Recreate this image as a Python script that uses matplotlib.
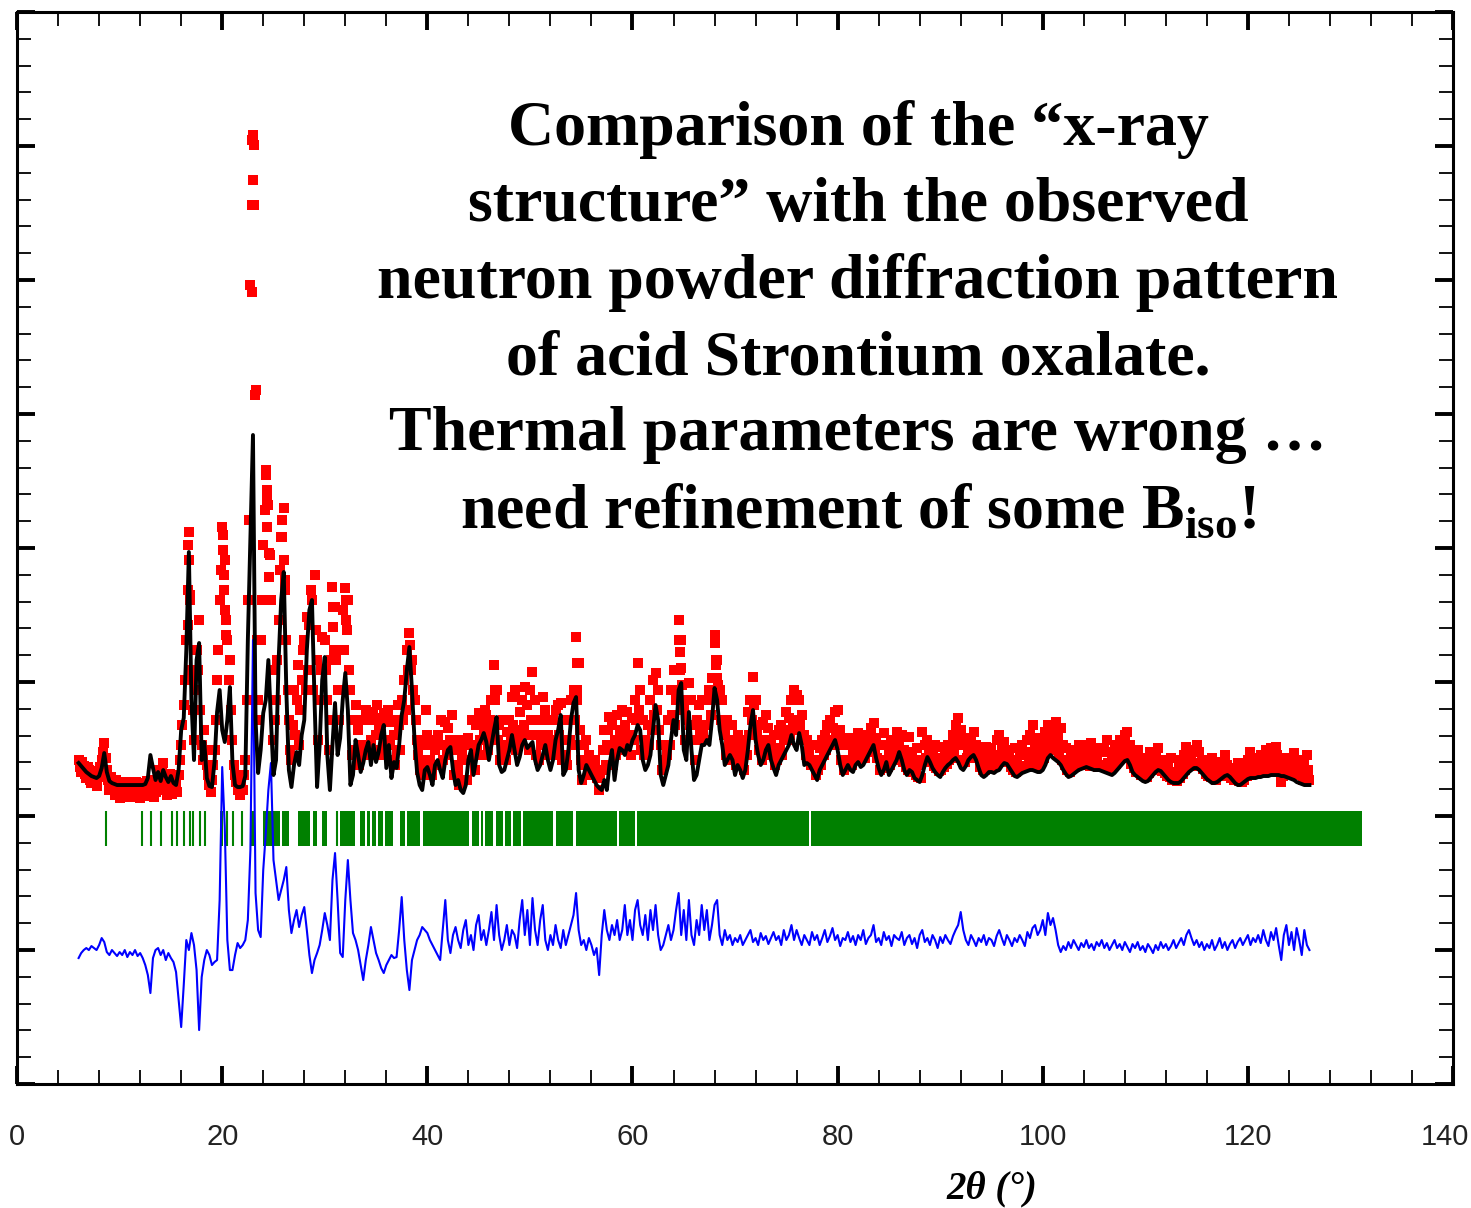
import numpy as np
import matplotlib
matplotlib.use("Agg")
import matplotlib.pyplot as plt
from matplotlib.ticker import MultipleLocator
from matplotlib.transforms import ScaledTranslation

# step scan, 6-126 deg in 0.125 deg steps, stored as the 0.25 deg points
# (y_obs) and the points half way between them (y_obs_mid)
tth_start, tth_stop, tth_step = 6.0, 126.0, 0.25

y_obs = [
    2400, 2280, 2340, 2220, 2300, 2170, 2240, 2140, 2280, 2400, 2570, 2300, 2100, 2180, 2050, 2140, 2020, 2100, 2040, 2120,
    2030, 2120, 2050, 2160, 2020, 2100, 2050, 2140, 2100, 2200, 2080, 2300, 2100, 2370, 2180, 2100, 2200, 2080, 2160, 2250,
    2550, 2950, 3600, 4680, 3200, 2600, 3500, 3800, 2550, 2700, 2350, 2150, 2200, 2500, 3200, 4000, 4730, 4400, 3600, 3400,
    2600, 2250, 2100, 2050, 2100, 2400, 4000, 7150, 8650, 6100, 3000, 3600, 4550, 5300, 4950, 4000, 2600, 3000, 3800, 4630,
    4920, 3600, 2800, 2400, 3100, 3000, 2550, 3200, 3600, 3830, 3750, 4000, 4250, 3400, 3000, 3630, 3600, 3000, 2800, 4130,
    3930, 3100, 3500, 3900, 4120, 4000, 3100, 2800, 2950, 2700, 2550, 2800, 2900, 2800, 2600, 2880, 2650, 2750, 2820, 2870,
    2550, 2780, 2400, 2650, 2500, 2750, 3000, 3200, 3500, 3670, 3400, 3000, 2600, 2300, 2400, 2550, 2650, 2400, 2250, 2500,
    2650, 2550, 2400, 2780, 2720, 2600, 2500, 2350, 2300, 2550, 2200, 2400, 2620, 2550, 2450, 2750, 2870, 2800, 2700, 2850,
    2600, 3000, 3350, 3100, 2750, 2550, 2450, 2680, 2800, 3030, 3100, 2700, 2880, 3000, 3130, 2950, 3100, 3280, 3000, 2650,
    2800, 3030, 2900, 2650, 2500, 2800, 2900, 2950, 2970, 2600, 2450, 2800, 3000, 3100, 3630, 3370, 2400, 2550, 2600, 2450,
    2400, 2300, 2220, 2100, 2300, 2700, 2550, 2830, 2750, 2600, 2850, 2650, 2900, 2750, 2880, 2650, 2820, 3000, 3370, 3100,
    2800, 2600, 2750, 3000, 3200, 3270, 3100, 2550, 2300, 2550, 2800, 3100, 3300, 3000, 3800, 3600, 2900, 2800, 3170, 3000,
    2600, 2800, 2950, 3000, 2750, 3000, 3100, 3220, 3650, 3400, 3100, 3000, 2700, 2800, 2600, 2750, 2550, 2650, 2600, 2500,
    2600, 2880, 3000, 3230, 3000, 2750, 2600, 2780, 2850, 2720, 2600, 2650, 2520, 2700, 2750, 2600, 2880, 2820, 3000, 3100,
    3050, 3000, 2850, 2650, 2600, 2500, 2550, 2400, 2350, 2520, 2600, 2650, 2750, 2800, 2720, 2880, 2900, 2700, 2550, 2600,
    2550, 2620, 2500, 2600, 2670, 2520, 2600, 2650, 2580, 2720, 2770, 2620, 2550, 2400, 2670, 2550, 2480, 2600, 2520, 2680,
    2600, 2650, 2500, 2400, 2630, 2480, 2400, 2520, 2350, 2680, 2550, 2600, 2520, 2450, 2550, 2400, 2530, 2420, 2500, 2550,
    2550, 2650, 2750, 2820, 2700, 2550, 2600, 2500, 2620, 2680, 2550, 2480, 2400, 2500, 2530, 2420, 2520, 2450, 2600, 2650,
    2520, 2580, 2450, 2500, 2380, 2520, 2400, 2480, 2550, 2450, 2600, 2650, 2750, 2580, 2500, 2620, 2550, 2680, 2750, 2620,
    2700, 2780, 2650, 2720, 2550, 2520, 2380, 2450, 2420, 2500, 2550, 2450, 2500, 2550, 2420, 2570, 2500, 2430, 2520, 2480,
    2520, 2600, 2480, 2420, 2550, 2480, 2600, 2520, 2650, 2680, 2550, 2450, 2380, 2500, 2420, 2350, 2300, 2400, 2480, 2420,
    2450, 2520, 2400, 2350, 2300, 2380, 2420, 2280, 2250, 2320, 2400, 2450, 2530, 2480, 2420, 2500, 2550, 2480, 2400, 2320,
    2300, 2380, 2420, 2250, 2320, 2380, 2300, 2450, 2350, 2300, 2250, 2320, 2370, 2220, 2280, 2320, 2400, 2480, 2350, 2420,
    2350, 2450, 2380, 2500, 2420, 2520, 2450, 2530, 2400, 2180, 2350, 2420, 2300, 2380, 2470, 2320, 2400, 2280, 2350, 2450,
    2200,
]

y_obs_mid = [
    2330, 2380, 2260, 2330, 2200, 2290, 2180, 2230, 2330, 2480, 2420, 2200, 2230, 2100, 2200, 2080, 2170, 2060, 2180, 2060,
    2160, 2060, 2180, 2080, 2170, 2040, 2190, 2050, 2150, 2030, 2200, 2160, 2280, 2100, 2050, 2260, 2060, 2180, 2080, 2400,
    2750, 3200, 4100, 4050, 2900, 3100, 3300, 2900, 2400, 2500, 2250, 2080, 2350, 2800, 3500, 4300, 4500, 3800, 3200, 2900,
    2350, 2180, 2200, 2150, 2250, 3000, 4800, 7950, 8550, 3600, 2800, 4000, 4900, 5000, 4450, 3300, 2800, 3400, 4300, 4800,
    4200, 3100, 2500, 2750, 2650, 3350, 2900, 3500, 3100, 3300, 4100, 3100, 3700, 2600, 3300, 3000, 3300, 2500, 3400, 3500,
    3400, 2800, 3100, 3500, 3700, 3300, 2450, 2500, 2500, 2350, 2800, 2450, 2550, 2450, 2800, 2450, 2950, 2500, 2450, 2600,
    2900, 2550, 2800, 2350, 2950, 2500, 2800, 2900, 3300, 3300, 3100, 2800, 2450, 2550, 2250, 2900, 2350, 2250, 2600, 2350,
    2350, 2800, 2550, 2450, 2500, 2850, 2250, 2600, 2150, 2450, 2600, 2200, 2400, 2800, 2300, 2550, 2600, 2450, 2900, 2500,
    2800, 2700, 3000, 2600, 2400, 2800, 2400, 2550, 2600, 2750, 2500, 2550, 2600, 2750, 2650, 2500, 2800, 2650, 2450, 2400,
    2550, 2600, 2450, 2800, 2450, 2600, 2500, 2650, 2400, 2800, 2350, 2600, 2550, 2800, 3000, 2700, 2200, 2350, 2250, 2300,
    2250, 2400, 2300, 2250, 2500, 2350, 2700, 2500, 2350, 2450, 2500, 2700, 2550, 2500, 2650, 2450, 2600, 2800, 2900, 2500,
    2450, 2500, 2550, 2700, 2850, 2900, 2700, 2300, 2400, 2450, 2550, 2850, 2750, 3100, 3300, 3150, 2600, 3000, 2750, 2600,
    2400, 2600, 2700, 2650, 2600, 2750, 2850, 3000, 3350, 3150, 2800, 2650, 2450, 2550, 2400, 2500, 2350, 2450, 2350, 2300,
    2450, 2650, 2800, 2950, 2700, 2500, 2400, 2550, 2600, 2500, 2450, 2350, 2400, 2500, 2450, 2700, 2600, 2650, 2750, 2800,
    2700, 2750, 2600, 2450, 2400, 2350, 2350, 2250, 2300, 2350, 2450, 2500, 2550, 2600, 2550, 2650, 2550, 2400, 2300, 2400,
    2400, 2350, 2420, 2450, 2400, 2450, 2420, 2480, 2500, 2550, 2500, 2420, 2300, 2320, 2400, 2330, 2350, 2400, 2420, 2500,
    2450, 2380, 2330, 2300, 2350, 2280, 2250, 2230, 2220, 2400, 2420, 2460, 2380, 2340, 2320, 2290, 2300, 2330, 2360, 2400,
    2420, 2480, 2550, 2600, 2400, 2380, 2420, 2460, 2480, 2520, 2420, 2330, 2300, 2300, 2350, 2320, 2330, 2350, 2380, 2420,
    2400, 2420, 2380, 2330, 2300, 2280, 2300, 2320, 2340, 2330, 2400, 2480, 2380, 2350, 2340, 2400, 2420, 2500, 2550, 2520,
    2500, 2550, 2450, 2400, 2350, 2300, 2280, 2320, 2330, 2360, 2380, 2350, 2370, 2400, 2340, 2380, 2360, 2330, 2350, 2340,
    2340, 2370, 2310, 2330, 2360, 2400, 2420, 2450, 2480, 2500, 2360, 2320, 2280, 2300, 2250, 2240, 2230, 2270, 2300, 2330,
    2350, 2330, 2290, 2270, 2240, 2230, 2200, 2200, 2190, 2220, 2260, 2300, 2350, 2340, 2360, 2370, 2360, 2340, 2310, 2260,
    2240, 2230, 2320, 2200, 2250, 2240, 2380, 2280, 2270, 2220, 2200, 2240, 2190, 2180, 2200, 2240, 2300, 2280, 2260, 2300,
    2270, 2300, 2280, 2350, 2300, 2380, 2320, 2450, 2300, 2240, 2280, 2330, 2260, 2300, 2380, 2250, 2330, 2200, 2250, 2300,
]

y_calc = [
    2370, 2340, 2310, 2280, 2260, 2240, 2230, 2220, 2240, 2320, 2470, 2280, 2190, 2170, 2160, 2150, 2150, 2150, 2150, 2150,
    2150, 2150, 2150, 2150, 2150, 2150, 2160, 2220, 2450, 2320, 2200, 2280, 2190, 2300, 2230, 2180, 2240, 2170, 2150, 2300,
    2700, 2820, 3500, 4480, 3000, 2400, 3400, 3570, 2400, 2580, 2220, 2140, 2130, 2380, 2880, 3100, 2700, 2580, 2800, 3130,
    2370, 2150, 2130, 2130, 2140, 2240, 3600, 4630, 5650, 2800, 2270, 2500, 2870, 3000, 3400, 2800, 2250, 2400, 3400, 4000,
    4280, 3100, 2300, 2130, 2350, 2480, 2350, 2650, 2800, 3500, 3900, 4000, 3000, 2130, 2550, 3200, 3430, 2450, 2100, 2550,
    2970, 2450, 2620, 3000, 3270, 2900, 2150, 2250, 2600, 2450, 2280, 2370, 2500, 2580, 2350, 2550, 2380, 2480, 2650, 2750,
    2320, 2550, 2220, 2380, 2320, 2550, 2850, 3000, 3300, 3530, 3100, 2600, 2280, 2150, 2100, 2300, 2330, 2250, 2150, 2350,
    2400, 2300, 2220, 2400, 2500, 2530, 2300, 2150, 2200, 2100, 2070, 2150, 2400, 2500, 2250, 2400, 2550, 2600, 2670, 2580,
    2400, 2550, 2700, 2830, 2350, 2280, 2300, 2400, 2500, 2650, 2500, 2350, 2430, 2550, 2600, 2520, 2550, 2580, 2400, 2300,
    2350, 2450, 2550, 2400, 2300, 2400, 2600, 2700, 2850, 2250, 2300, 2500, 2800, 2970, 3030, 2300, 2170, 2250, 2350, 2300,
    2250, 2200, 2150, 2120, 2100, 2200, 2100, 2350, 2500, 2200, 2400, 2520, 2500, 2450, 2550, 2500, 2600, 2650, 2750, 2700,
    2400, 2300, 2350, 2450, 2700, 2950, 2800, 2250, 2150, 2250, 2350, 2600, 2800, 2650, 3100, 3170, 2500, 2400, 2880, 2500,
    2200, 2250, 2400, 2550, 2550, 2600, 2550, 2800, 3120, 3000, 2700, 2550, 2350, 2400, 2450, 2400, 2250, 2350, 2300, 2220,
    2300, 2500, 2750, 2900, 2600, 2450, 2350, 2400, 2500, 2550, 2400, 2320, 2250, 2350, 2400, 2450, 2500, 2550, 2650, 2550,
    2500, 2670, 2550, 2350, 2370, 2350, 2300, 2250, 2200, 2300, 2350, 2400, 2450, 2500, 2550, 2600, 2500, 2350, 2250, 2300,
    2350, 2300, 2280, 2350, 2380, 2330, 2350, 2400, 2450, 2500, 2550, 2420, 2320, 2250, 2300, 2380, 2250, 2300, 2350, 2400,
    2480, 2400, 2300, 2250, 2300, 2280, 2220, 2200, 2180, 2250, 2350, 2430, 2380, 2320, 2280, 2250, 2230, 2280, 2320, 2350,
    2370, 2400, 2420, 2380, 2320, 2300, 2340, 2400, 2430, 2450, 2400, 2320, 2250, 2230, 2250, 2280, 2280, 2270, 2290, 2300,
    2340, 2370, 2360, 2320, 2280, 2240, 2230, 2250, 2270, 2280, 2290, 2300, 2300, 2290, 2280, 2280, 2300, 2350, 2420, 2450,
    2420, 2400, 2380, 2350, 2300, 2260, 2230, 2240, 2260, 2280, 2300, 2310, 2320, 2330, 2320, 2310, 2300, 2300, 2300, 2290,
    2280, 2270, 2260, 2250, 2270, 2300, 2330, 2360, 2390, 2400, 2350, 2280, 2250, 2230, 2210, 2190, 2180, 2190, 2220, 2250,
    2280, 2300, 2290, 2260, 2230, 2200, 2180, 2170, 2170, 2170, 2190, 2220, 2250, 2280, 2300, 2320, 2320, 2300, 2270, 2240,
    2210, 2190, 2170, 2170, 2180, 2200, 2220, 2240, 2250, 2230, 2200, 2170, 2150, 2150, 2170, 2190, 2210, 2220, 2220, 2220,
    2230, 2230, 2240, 2240, 2240, 2250, 2250, 2250, 2250, 2240, 2240, 2230, 2220, 2210, 2200, 2180, 2170, 2160, 2150, 2150,
    2150,
]

# Yobs - Ycalc
y_diff = [
    -80, -30, 0, 20, 0, 40, 20, 0, 50, 120, 80, -20, -50, 0, -30, -60, -20, -50, 0, -70,
    -20, -50, 0, -60, -30, -80, -150, -250, -430, -80, 0, 20, -50, 0, -100, -30, -80, -120, -220, -500,
    -770, -350, 100, 0, 170, 50, -200, -800, -270, -100, 0, -50, -150, -120, -100, 500, 1830, 1230, 100, -200,
    -200, -50, 70, 20, 50, 100, 300, 1000, 3100, 570, 200, 130, 800, 1170, 1600, 1870, 900, 700, 500, 600,
    700, 830, 400, 170, 300, 400, 230, 350, 430, 200, -50, -230, -100, -30, 50, 200, 370, 250, 100, 700,
    970, 500, -30, -70, 500, 900, 500, 170, 100, 0, -150, -300, -100, 50, 230, 100, -30, -100, -180, -230,
    -150, -100, -50, -80, -70, 200, 530, 100, -200, -400, -100, 0, 100, 150, 230, 200, 170, 100, 50, 0,
    -50, -100, 200, 500, 100, -30, 150, 230, 100, 20, 200, 300, 50, 150, 0, 250, 350, 100, 200, 50,
    200, 380, 100, 450, 150, 0, 100, 250, 50, 200, 150, 20, 300, 500, 150, 400, 50, 520, 200, 50,
    300, 450, 100, 0, 150, 50, 250, 100, 20, 200, 50, 150, 250, 350, 570, 200, 50, 100, 0, 120,
    50, -50, 20, -250, 150, 400, 200, 100, 250, 150, 300, 100, 200, 450, 150, 300, 100, 400, 500, 250,
    150, 350, 100, 400, 200, 450, 150, 0, 50, 150, 250, 100, 200, 400, 570, 150, 400, 100, 500, 150,
    50, 300, 150, 450, 200, 400, 100, 250, 450, 500, 150, 50, 200, 100, 150, 50, 120, 80, 150, 50,
    100, 150, 200, 80, 120, 50, 170, 100, 140, 60, 120, 180, 100, 140, 50, 200, 100, 150, 250, 100,
    200, 120, 50, 150, 100, 50, 180, 100, 150, 50, 120, 200, 80, 140, 220, 100, 150, 40, 120, 100,
    180, 80, 140, 50, 150, 100, 200, 60, 120, 150, 250, 80, 120, 50, 180, 100, 140, 40, 150, 120,
    100, 180, 50, 120, 150, 60, 120, 20, 150, 200, 80, 120, 50, 150, 100, 20, 130, 70, 150, 100,
    60, 140, 200, 250, 380, 200, 100, 50, 150, 100, 40, 120, 80, 150, 50, 120, 100, 40, 140, 200,
    120, 50, 150, 100, 40, 120, 80, 150, 100, 40, 180, 120, 220, 250, 150, 200, 300, 150, 370, 250,
    320, 200, 50, -20, 40, 0, 80, 20, 100, 50, 0, 70, 30, 100, 20, 60, 0, 80, 40, 100,
    20, 70, 0, 50, 100, 20, 60, 0, 80, 30, -20, 60, 20, 80, 0, 40, -20, 60, 20, -30,
    50, 0, 80, 20, 60, 0, 40, 100, 20, 70, 120, 50, 150, 200, 120, 50, 100, 30, 80, 0,
    60, 20, 100, 0, 50, 120, 20, 80, 0, 60, 100, 20, 80, 120, 50, 100, 150, 50, 120, 80,
    150, 70, 200, 100, 40, 180, 100, 220, 50, -100, 150, 250, 50, 180, 0, 220, 100, -50, 200, 50,
    0,
]
diff_offset = 500

# extra observed points on the steep flanks of the strongest reflections
peak_tth = [16.65, 16.70, 16.80, 16.85, 16.90,
            20.05, 20.10, 20.15, 20.20, 20.30, 20.40,
            22.90, 22.95, 23.05, 23.10, 23.15,
            24.30, 24.35, 24.40, 24.55, 24.60,
            25.85, 26.05, 26.10, 30.80, 30.85, 32.05, 32.10, 38.30, 46.60,
            54.55, 54.60, 64.55, 64.65, 64.70, 68.05, 68.15, 68.20]
peak_obs = [3750, 4550, 4400, 4000, 3300,
            4650, 4500, 4250, 4100, 3900, 3650,
            7080, 8600, 8200, 7950, 6050,
            5250, 5100, 4730, 4470, 4230,
            4630, 4400, 4100, 3930, 3730, 4000, 3800, 3550, 3100,
            3370, 3100, 3600, 3480, 3320, 3570, 3400, 3220]

# Bragg reflection positions (2theta)
bragg_single = [8.66, 12.17, 13.08, 14.05, 15.10, 15.64, 16.23, 16.88, 17.14,
                17.86, 18.34, 20.46, 21.04, 21.92, 31.18]
bragg_runs = [(19.80, 20.10), (22.73, 23.22), (23.99, 25.64), (25.82, 26.53),
              (27.40, 28.60), (28.84, 29.23), (29.75, 30.23), (31.50, 32.96),
              (33.45, 33.94), (34.13, 34.42), (34.59, 35.01), (35.20, 35.69),
              (35.89, 36.66), (37.30, 37.80), (38.00, 39.30), (39.62, 44.07),
              (44.34, 45.08), (45.24, 45.41), (45.66, 46.44), (46.68, 47.42),
              (47.61, 48.17), (48.39, 49.14), (49.37, 52.29), (52.52, 54.24),
              (54.47, 58.53), (58.72, 60.25), (60.48, 77.24), (77.43, 131.10)]
bragg_lo, bragg_hi = 1540, 1890

x_ticks = [0, 20, 40, 60, 80, 100, 120, 140]

title_lines = ["Comparison of the \u201cx-ray",
               "structure\u201d with the observed",
               "neutron powder diffraction pattern",
               "of acid Strontium oxalate.",
               "Thermal parameters are wrong \u2026",
               r"need refinement of some $\mathbf{B}_{\mathbf{iso}}$!"]

plt.rcParams["mathtext.fontset"] = "custom"
plt.rcParams["mathtext.rm"] = "Liberation Serif:bold"
plt.rcParams["mathtext.bf"] = "Liberation Serif:bold"

tth = np.arange(tth_start, tth_stop + tth_step / 2, tth_step)
tth_mid = tth[:-1] + tth_step / 2
y_obs = np.array(y_obs)
y_obs_mid = np.array(y_obs_mid)
y_calc = np.array(y_calc)
y_diff = np.array(y_diff)

fig = plt.figure(figsize=(14.71, 12.08), dpi=100)
ax = fig.add_axes([0.0116, 0.1026, 0.9762, 0.8875])

obs_style = dict(ls="none", marker="s", color="#ff0000", ms=6.8, mew=0, zorder=2)
ax.plot(tth, y_obs, **obs_style)
ax.plot(tth_mid, y_obs_mid, **obs_style)
ax.plot(peak_tth, peak_obs, **obs_style)
ax.vlines(bragg_single, bragg_lo, bragg_hi, color="#008000", lw=1.5, zorder=3)
ax.broken_barh([(a, b - a) for a, b in bragg_runs], (bragg_lo, bragg_hi - bragg_lo),
               facecolor="#008000", edgecolor="none", zorder=3)
ax.plot(tth, y_diff + diff_offset, color="#0000ff", lw=1.5, zorder=4)
ax.plot(tth, y_calc, color="black", lw=2.8, zorder=5)

ax.set_xlim(0, 140)
ax.set_ylim(-840, 9880)
ax.set_xticks(x_ticks)
ax.xaxis.set_minor_locator(MultipleLocator(4))
ax.yaxis.set_major_locator(MultipleLocator(1340, offset=500))
ax.yaxis.set_minor_locator(MultipleLocator(268, offset=232))
ax.tick_params(which="both", direction="in", top=True, right=True,
               labelleft=False, colors="black")
ax.tick_params(which="major", length=13, width=2.8, pad=28,
               labelsize=21, labelcolor="#222222")
ax.tick_params(which="minor", length=10, width=1.3)
for tick in ax.xaxis.get_major_ticks():
    tick.label1.set_fontfamily("Liberation Sans")
# keep the last label inside the figure
last = ax.xaxis.get_major_ticks()[-1].label1
last.set_transform(last.get_transform()
                   + ScaledTranslation(-0.08, 0, fig.dpi_scale_trans))
for sp in ax.spines.values():
    sp.set_linewidth(2.2)

ax.set_xlabel("2\u03b8 (\u00b0)", fontfamily="Liberation Serif", fontweight="bold",
              fontstyle="italic", fontsize=28, va="center")
ax.xaxis.set_label_coords(0.679, -0.098)

baselines = [145, 221, 298, 374, 450, 527]
for line, b in zip(title_lines, baselines):
    fig.text(858 / 1471, 1 - b / 1208, line, ha="center", va="baseline",
             fontfamily="Liberation Serif", fontweight="bold", fontsize=46,
             color="black", zorder=10)

fig.savefig("out.png", dpi=100)
